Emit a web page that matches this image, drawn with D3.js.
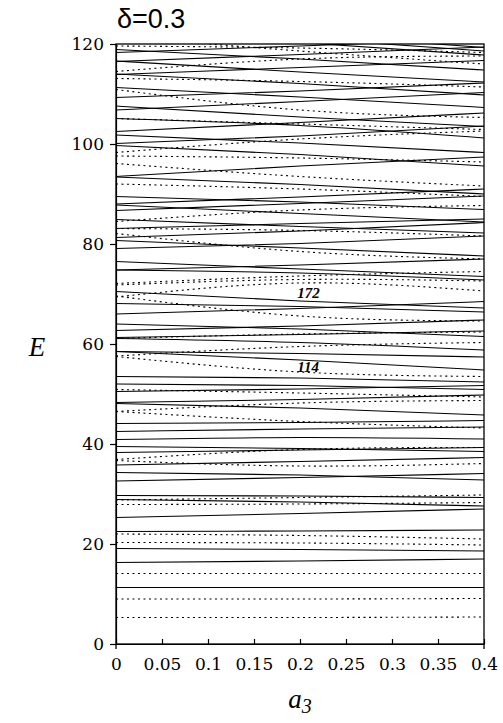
<!DOCTYPE html>
<html>
<head>
<meta charset="utf-8">
<script src="https://cdn.jsdelivr.net/npm/d3@7"></script>
<style>
  body { margin: 0; background: #fff; }
  svg { display: block; }
  .axis path, .axis line { stroke: #000; stroke-width: 1.2; }
  .axis text { font-family: "DejaVu Serif", serif; font-size: 17px; fill: #000; }
  .level { fill: none; stroke: #000; stroke-width: 1.1; }
  .level.dotted { stroke-dasharray: 2 3.5; }
</style>
</head>
<body>
<svg id="chart" width="503" height="723"></svg>
<script>
// levels at a3 = 0, 0.2, 0.4
const a3Grid = [0, 0.2, 0.4];

const solidLevels = [
  [11.3, 11.3, 11.3],
  [16.3, 16.6, 17.0],
  [19.1, 18.9, 18.6],
  [22.5, 22.6, 22.8],
  [25.3, 26.1, 27.0],
  [28.9, 28.4, 27.6],
  [29.7, 29.6, 29.3],
  [32.6, 33.3, 34.1],
  [34.3, 33.8, 32.8],
  [35.8, 36.5, 37.3],
  [38.3, 38.8, 39.3],
  [39.5, 39.1, 38.5],
  [40.9, 41.3, 41.0],
  [42.5, 43.0, 43.4],
  [44.1, 44.3, 44.7],
  [48.1, 47.2, 45.8],
  [48.3, 48.9, 49.8],
  [50.5, 51.0, 51.7],
  [52.0, 51.7, 50.9],
  [53.5, 53.2, 52.4],
  [58.5, 58.1, 57.4],
  [58.5, 56.8, 54.8],
  [61.1, 60.3, 58.8],
  [61.3, 61.9, 62.6],
  [62.7, 63.6, 64.8],
  [64.0, 63.0, 61.5],
  [66.0, 67.1, 68.5],
  [68.1, 67.5, 66.4],
  [70.5, 68.6, 67.2],
  [74.8, 75.8, 77.0],
  [74.8, 74.2, 72.8],
  [76.5, 75.0, 73.5],
  [79.1, 80.1, 81.6],
  [80.7, 79.2, 77.6],
  [81.3, 82.6, 84.3],
  [83.1, 84.1, 85.0],
  [84.9, 83.5, 82.2],
  [86.7, 88.1, 89.6],
  [87.8, 86.1, 84.4],
  [88.0, 89.4, 91.0],
  [89.5, 88.4, 86.9],
  [93.5, 95.6, 97.4],
  [93.4, 91.9, 90.0],
  [99.7, 97.9, 95.6],
  [100.1, 101.6, 103.6],
  [101.8, 100.2, 98.3],
  [102.5, 104.3, 106.2],
  [105.1, 103.7, 101.2],
  [106.8, 108.5, 110.3],
  [107.6, 105.4, 103.5],
  [109.3, 110.6, 112.2],
  [111.3, 109.4, 107.3],
  [113.9, 115.3, 116.7],
  [114.0, 112.1, 109.8],
  [116.5, 117.9, 119.4],
  [116.6, 114.4, 112.4],
  [118.3, 119.6, 121.0],
  [118.9, 117.0, 114.8],
  [122.5, 120.3, 117.8],
  [124.0, 121.2, 118.6],
  [125.0, 122.0, 119.3]
];

const dottedLevels = [
  [5.3, 5.3, 5.4],
  [9.0, 9.0, 9.1],
  [14.1, 14.1, 14.1],
  [20.3, 20.2, 19.8],
  [22.0, 21.7, 21.0],
  [27.9, 28.0, 28.3],
  [28.8, 29.3, 29.8],
  [36.9, 38.9, 39.3],
  [36.7, 35.6, 36.1],
  [46.5, 48.2, 48.7],
  [46.5, 44.5, 43.2],
  [50.9, 50.2, 49.4],
  [57.5, 54.4, 53.5],
  [57.6, 59.5, 60.3],
  [61.1, 62.0, 62.4],
  [69.6, 65.6, 64.6],
  [69.4, 72.2, 70.6],
  [72.1, 73.6, 74.5],
  [71.8, 72.9, 72.6],
  [82.1, 78.5, 77.0],
  [83.1, 82.7, 81.6],
  [84.5, 86.8, 87.7],
  [92.0, 91.0, 89.5],
  [96.1, 93.5, 91.6],
  [97.6, 97.2, 96.4],
  [98.3, 101.0, 102.6],
  [105.1, 104.0, 102.9],
  [110.9, 106.8, 105.3],
  [113.1, 112.5, 111.4],
  [114.5, 117.0, 117.6],
  [119.6, 119.2, 118.3],
  [121.5, 118.6, 116.0]
];

const xTicks = [0, 0.05, 0.1, 0.15, 0.2, 0.25, 0.3, 0.35, 0.4];
const yTicks = [0, 20, 40, 60, 80, 100, 120];
const shellLabels = ["172", "114"];
const shellLabelAt = [[0.197, 69.2], [0.197, 54.4]];

const margin = { top: 44, right: 19, bottom: 79, left: 116 };
const W = 503 - margin.left - margin.right;
const H = 723 - margin.top - margin.bottom;

const svg = d3.select("#chart");
const g = svg.append("g").attr("transform", `translate(${margin.left},${margin.top})`);

const x = d3.scaleLinear().domain([0, 0.4]).range([0, W]);
const y = d3.scaleLinear().domain([0, 120]).range([H, 0]);

g.append("clipPath").attr("id", "plot-clip")
  .append("rect").attr("width", W).attr("height", H);

const line = d3.line()
  .x((d, i) => x(a3Grid[i]))
  .y(d => y(d))
  .curve(d3.curveNatural);

const levels = g.append("g").attr("clip-path", "url(#plot-clip)");

levels.selectAll("path.solid")
  .data(solidLevels)
  .join("path")
  .attr("class", "level solid")
  .attr("d", line);

levels.selectAll("path.dotted")
  .data(dottedLevels)
  .join("path")
  .attr("class", "level dotted")
  .attr("d", line);

// axes
g.append("g").attr("class", "axis")
  .attr("transform", `translate(0,${H})`)
  .call(d3.axisBottom(x).tickValues(xTicks).tickSizeInner(-5).tickSizeOuter(0).tickPadding(14)
    .tickFormat(d => String(+d.toFixed(2))));

g.append("g").attr("class", "axis")
  .call(d3.axisLeft(y).tickValues(yTicks).tickSizeInner(6).tickSizeOuter(0).tickPadding(6));

// frame
g.append("rect")
  .attr("width", W).attr("height", H)
  .attr("fill", "none").attr("stroke", "#000").attr("stroke-width", 1.3);
[0, W].forEach(px => {
  g.append("line").attr("x1", px).attr("x2", px).attr("y1", H).attr("y2", H + 5)
    .attr("stroke", "#000").attr("stroke-width", 1.3);
});

// shell gap labels
g.selectAll("text.shell")
  .data(shellLabels)
  .join("text")
  .attr("class", "shell")
  .attr("x", (d, i) => x(shellLabelAt[i][0]))
  .attr("y", (d, i) => y(shellLabelAt[i][1]))
  .attr("font-family", "'Liberation Serif', serif")
  .attr("font-style", "italic")
  .attr("font-weight", "bold")
  .attr("font-size", 15)
  .text(d => d);

// titles
svg.append("text")
  .attr("x", 117).attr("y", 28)
  .attr("font-family", "'Liberation Sans', Arial, sans-serif")
  .attr("font-size", 27)
  .text("δ=0.3");

svg.append("text")
  .attr("x", 37).attr("y", 356)
  .attr("text-anchor", "middle")
  .attr("font-family", "'Liberation Serif', serif")
  .attr("font-style", "italic")
  .attr("font-size", 27)
  .text("E");

const xl = svg.append("text")
  .attr("x", margin.left + W / 2).attr("y", 708)
  .attr("text-anchor", "middle")
  .attr("font-family", "'Liberation Serif', serif")
  .attr("font-style", "italic")
  .attr("font-size", 27);
xl.append("tspan").text("a");
xl.append("tspan").attr("dy", 5).attr("font-size", 20).text("3");
</script>
</body>
</html>
